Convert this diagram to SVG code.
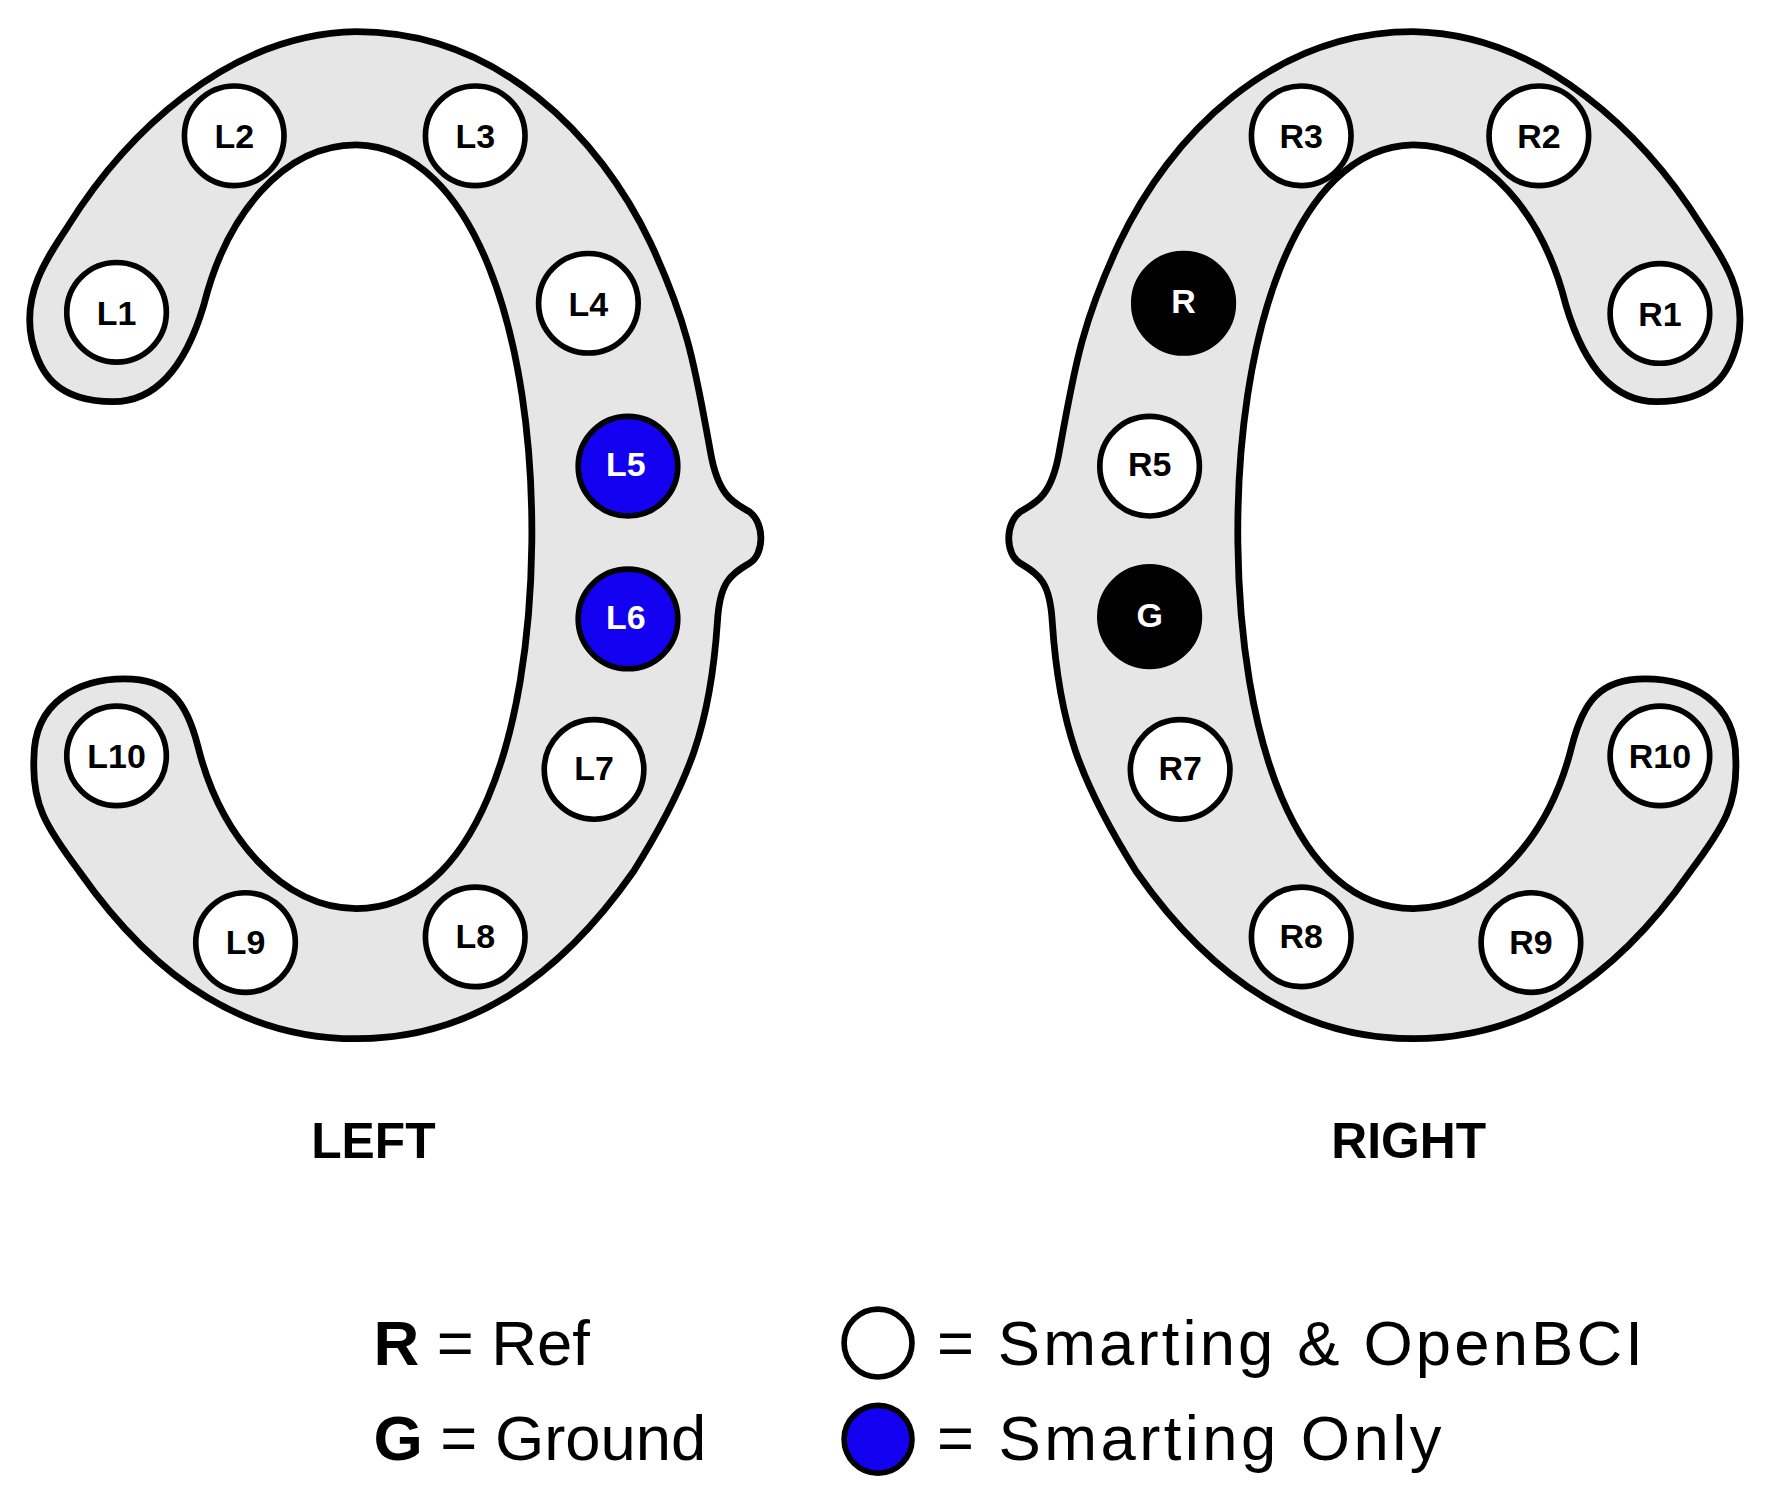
<svg xmlns="http://www.w3.org/2000/svg" width="1765" height="1503" viewBox="0 0 1765 1503">
<style>
.band{fill:#e6e6e6;stroke:#000;stroke-width:6;stroke-linejoin:round}
.e{fill:#fff;stroke:#000;stroke-width:5}
.b{fill:#1400f0;stroke:#000;stroke-width:5}
.k{fill:#000;stroke:#000;stroke-width:5}
.t{font-family:"Liberation Sans",Arial,sans-serif;font-weight:bold;font-size:30px;text-anchor:middle;fill:#000}
.w{fill:#fff}
.big{font-family:"Liberation Sans",Arial,sans-serif;font-weight:bold;font-size:44px;text-anchor:middle}
.leg{font-family:"Liberation Sans",Arial,sans-serif;font-size:56px}
</style>
<defs>
<path id="band" class="band" d="M 28,300 C 20,260 40,230 60,200 C 110,120 200,30 315,28 C 440,28 530,120 575,215 C 610,290 615,330 628,400 C 635,440 650,445 662,452 C 676,462 676,490 662,498 C 645,508 636,515 634,550 C 628,640 610,690 560,770 C 490,870 410,918 315,918 C 220,918 140,870 70,770 C 40,730 28,710 30,670 C 30,620 70,600 110,600 C 150,600 165,620 175,660 C 195,740 250,803 315,803 C 420,803 468,650 470,480 C 472,300 420,130 315,128 C 250,128 200,190 180,270 C 165,320 140,355 100,355 C 50,355 35,330 28,300 Z"/>
</defs>
<rect width="1765" height="1503" fill="#fff"/>
<g transform="scale(1.1315)">
<g id="left-shape"><use href="#band"/></g>
<g id="right-shape"><use href="#band" transform="translate(1564,0) scale(-1,1)"/></g>
<g id="connectors"></g>
<g id="L1"><circle class="e" cx="103" cy="276" r="44"/><text class="t" x="103" y="287">L1</text></g>
<g id="L2"><circle class="e" cx="207" cy="120" r="44"/><text class="t" x="207" y="131">L2</text></g>
<g id="L3"><circle class="e" cx="420" cy="120" r="44"/><text class="t" x="420" y="131">L3</text></g>
<g id="L4"><circle class="e" cx="520" cy="268" r="44"/><text class="t" x="520" y="279">L4</text></g>
<g id="L5"><circle class="b" cx="555" cy="412" r="44"/><text class="t w" x="553" y="421">L5</text></g>
<g id="L6"><circle class="b" cx="555" cy="547" r="44"/><text class="t w" x="553" y="556">L6</text></g>
<g id="L7"><circle class="e" cx="525" cy="680" r="44"/><text class="t" x="525" y="689">L7</text></g>
<g id="L8"><circle class="e" cx="420" cy="828" r="44"/><text class="t" x="420" y="838">L8</text></g>
<g id="L9"><circle class="e" cx="217" cy="833" r="44"/><text class="t" x="217" y="843">L9</text></g>
<g id="L10"><circle class="e" cx="103" cy="668" r="44"/><text class="t" x="103" y="679">L10</text></g>
<g id="R3"><circle class="e" cx="1150" cy="120" r="44"/><text class="t" x="1150" y="131">R3</text></g>
<g id="R2"><circle class="e" cx="1360" cy="120" r="44"/><text class="t" x="1360" y="131">R2</text></g>
<g id="R1"><circle class="e" cx="1467" cy="277" r="44"/><text class="t" x="1467" y="288">R1</text></g>
<g id="R"><circle class="k" cx="1046" cy="268" r="44"/><text class="t w" x="1046" y="277">R</text></g>
<g id="R5"><circle class="e" cx="1016" cy="412" r="44"/><text class="t" x="1016" y="421">R5</text></g>
<g id="G"><circle class="k" cx="1016" cy="545" r="44"/><text class="t w" x="1016" y="554">G</text></g>
<g id="R7"><circle class="e" cx="1043" cy="680" r="44"/><text class="t" x="1043" y="689">R7</text></g>
<g id="R8"><circle class="e" cx="1150" cy="828" r="44"/><text class="t" x="1150" y="838">R8</text></g>
<g id="R9"><circle class="e" cx="1353" cy="833" r="44"/><text class="t" x="1353" y="843">R9</text></g>
<g id="R10"><circle class="e" cx="1467" cy="668" r="44"/><text class="t" x="1467" y="679">R10</text></g>
<text class="big" x="330" y="1023">LEFT</text>
<text class="big" x="1245" y="1023">RIGHT</text>
<g id="legend">
<text class="leg" x="330" y="1206"><tspan font-weight="bold">R</tspan> = Ref</text>
<text class="leg" x="330" y="1290"><tspan font-weight="bold">G</tspan> = Ground</text>
<circle class="e" cx="776" cy="1187" r="30" stroke-width="7"/>
<circle class="b" cx="776" cy="1272" r="30" stroke-width="7"/>
<text class="leg" x="828" y="1206" textLength="624">= Smarting &amp; OpenBCI</text>
<text class="leg" x="828" y="1290" textLength="446">= Smarting Only</text>
</g>
</g>
</svg>
